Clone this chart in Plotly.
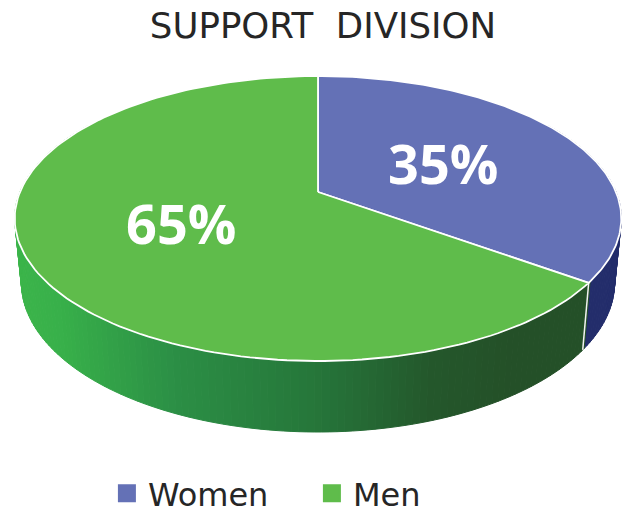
import numpy as np
import plotly.graph_objects as go

title = "SUPPORT\u00a0\u00a0DIVISION"
categories = ["Women", "Men"]
values = [35, 65]
labels = ["35%", "65%"]
colors = ["#6471B6", "#5FBC4B"]
wall_navy = "#232D6B"
wall_stops_x = [15, 60, 170, 318, 430, 520, 600]
wall_stops_rgb = [(60,181,75), (56,176,74), (44,144,70), (38,118,58), (36,88,44), (36,80,40), (36,80,40)]

# Perspective projection of the pie disc onto the page (pixels)
CX, AY, BV, CV, KX = 318.0, 192.0, -101.87, 0.186, 298.0
BOT_A, BOT_B, BOT_X = 254.7, 1.049, 0.978


def top(t):
    v = np.cos(t)
    d = 1 + CV * v
    return CX + KX * np.sin(t) / d, (AY + BV * v) / d


def bottom(t):
    x, y = top(t)
    return CX + BOT_X * (x - CX), BOT_A + BOT_B * (y - AY)


fracs = np.cumsum([0] + values) / sum(values) * 2 * np.pi
fig = go.Figure()


def wall_color(x):
    rgb = [np.interp(x, wall_stops_x, [c[i] for c in wall_stops_rgb]) for i in range(3)]
    return "rgb(%d,%d,%d)" % tuple(rgb)


# side wall: strips across the front half of the disc
edges = np.radians(np.linspace(58, 302, 200))
for a, b in zip(edges[:-1], edges[1:]):
    xa, ya = top(a); xb, yb = top(b)
    xc, yc = bottom(b); xd, yd = bottom(a)
    mid = (a + b) / 2
    col = wall_navy if mid < fracs[1] else wall_color(top(mid)[0])
    fig.add_trace(go.Scatter(x=[xa, xb, xc, xd, xa], y=[ya, yb, yc, yd, ya], mode="lines",
                             fill="toself", fillcolor=col, line=dict(color=col, width=1),
                             hoverinfo="skip", showlegend=False))

# seam on the wall at the slice border
sx0, sy0 = top(fracs[1]); sx1, sy1 = bottom(fracs[1])
fig.add_trace(go.Scatter(x=[sx0, sx1], y=[sy0, sy1], mode="lines",
                         line=dict(color="#F2F2F2", width=1.5), hoverinfo="skip", showlegend=False))

# top of the pie
for i, name in enumerate(categories):
    t = np.linspace(fracs[i], fracs[i + 1], 160)
    xs, ys = top(t)
    fig.add_trace(go.Scatter(x=np.r_[CX, xs, CX], y=np.r_[AY, ys, AY], mode="lines", fill="toself",
                             fillcolor=colors[i], line=dict(color="white", width=1.8),
                             hoverinfo="skip", showlegend=False))
    fig.add_trace(go.Scatter(x=[None], y=[None], mode="markers", name=name,
                             marker=dict(symbol="square", size=16, color=colors[i],
                                         line=dict(color=colors[i], width=2))))

fig.add_annotation(x=443, y=163, text=f"<b>{labels[0]}</b>", showarrow=False,
                   font=dict(family="Open Sans", size=54, color="white"))
fig.add_annotation(x=181, y=223, text=f"<b>{labels[1]}</b>", showarrow=False,
                   font=dict(family="Open Sans", size=54, color="white"))

fig.update_layout(
    width=623, height=515, margin=dict(l=0, r=0, t=0, b=0, autoexpand=False),
    paper_bgcolor="white", plot_bgcolor="white",
    xaxis=dict(range=[0, 623], visible=False, fixedrange=True),
    yaxis=dict(range=[515, 0], visible=False, fixedrange=True),
    title=dict(text=title, x=0.5185, xanchor="center", y=0.951, yanchor="middle",
               font=dict(family="DejaVu Sans", size=35.6, color="#262626")),
    legend=dict(orientation="h", x=0.17, xanchor="left", y=0.042, yanchor="middle",
                font=dict(family="DejaVu Sans", size=32, color="#262626"),
                itemwidth=32, entrywidth=158, entrywidthmode="pixels",
                itemclick=False, itemdoubleclick=False, bgcolor="rgba(0,0,0,0)"),
)
fig.write_html("out.html", config={"displayModeBar": False},
               post_script="document.body.style.margin='0';document.body.style.overflow='hidden';")
